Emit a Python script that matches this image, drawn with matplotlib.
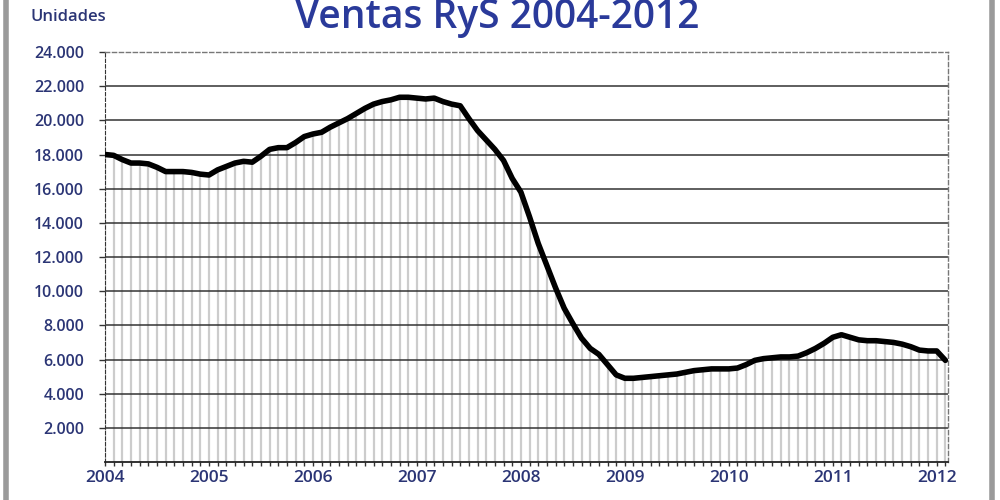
import matplotlib
matplotlib.use("Agg")
import matplotlib.pyplot as plt
from matplotlib.lines import Line2D
import numpy as np

# Monthly sales, Jan 2004 .. Feb 2012
ventas = [18000, 17950, 17700, 17500, 17500, 17450, 17250, 17000, 17000, 17000, 16950, 16850,
          16800, 17100, 17300, 17500, 17600, 17550, 17900, 18300, 18400, 18400, 18700, 19050,
          19200, 19300, 19600, 19850, 20100, 20400, 20700, 20950, 21100, 21200, 21350, 21350,
          21300, 21250, 21300, 21100, 20950, 20850, 20100, 19400, 18850, 18300, 17650, 16600,
          15800, 14350, 12800, 11500, 10200, 9000, 8100, 7250, 6650, 6300, 5700, 5100,
          4900, 4900, 4950, 5000, 5050, 5100, 5150, 5250, 5350, 5400, 5450, 5450,
          5450, 5500, 5700, 5950, 6050, 6100, 6150, 6150, 6200, 6400, 6650, 6950,
          7300, 7450, 7300, 7150, 7100, 7100, 7050, 7000, 6900, 6750, 6550, 6500,
          6500, 5950]
years = ["2004", "2005", "2006", "2007", "2008", "2009", "2010", "2011", "2012"]
yticks = [2000, 4000, 6000, 8000, 10000, 12000, 14000, 16000, 18000, 20000, 22000, 24000]
ytick_labels = ["2.000", "4.000", "6.000", "8.000", "10.000", "12.000", "14.000",
                "16.000", "18.000", "20.000", "22.000", "24.000"]

navy = "#2b3575"
title_blue = "#2a3a9a"
font = "Open Sans"

fig = plt.figure(figsize=(10, 5), dpi=100)
fig.patch.set_facecolor("white")

ax = fig.add_axes([0.105, 0.076, 0.843, 0.820])
x = np.arange(len(ventas))
ax.vlines(x, 0, ventas, colors="#cccccc", linewidth=1.6, zorder=1)
for yv in yticks[:-1]:
    ax.axhline(yv, color="#333333", linewidth=1.1, zorder=2)
ax.plot(x, ventas, color="black", linewidth=4, solid_joinstyle="round",
        solid_capstyle="round", zorder=3)

ax.set_xlim(0, 97.3)
ax.set_ylim(0, 24000)
ax.set_yticks(yticks)
ax.set_yticklabels(ytick_labels)
ax.set_xticks([12 * i for i in range(len(years))])
ax.set_xticklabels(years)
ax.set_xticks(np.arange(0, 98), minor=True)

for lbl in ax.get_yticklabels():
    lbl.set_color(navy)
    lbl.set_fontsize(11.5)
    lbl.set_fontweight("semibold")
    lbl.set_fontfamily(font)
for lbl in ax.get_xticklabels():
    lbl.set_color(navy)
    lbl.set_fontsize(12.5)
    lbl.set_fontweight("semibold")
    lbl.set_fontfamily(font)

ax.tick_params(axis="y", length=4, width=1, color="#333333", pad=11)
ax.tick_params(axis="x", which="both", length=3, width=1, color="#333333", pad=3, direction="out")

for s in ["top", "right"]:
    ax.spines[s].set_linestyle((0, (3, 2)))
    ax.spines[s].set_color("#777777")
    ax.spines[s].set_linewidth(1)
ax.spines["left"].set_linestyle((0, (3, 2)))
ax.spines["left"].set_color("#333333")
ax.spines["bottom"].set_color("#222222")
ax.spines["bottom"].set_linewidth(1.3)

fig.text(0.497, 0.944, "Ventas RyS 2004-2012", ha="center", va="baseline",
         fontsize=28, color=title_blue, fontfamily=font, fontweight="semibold")
fig.text(0.03, 0.958, "Unidades", ha="left", va="baseline",
         fontsize=12, color=navy, fontweight="semibold", fontfamily=font)

# gray frame
fig.add_artist(Line2D([0.006, 0.006], [0, 1], color="#9a9a9a", linewidth=4, transform=fig.transFigure))
fig.add_artist(Line2D([0.992, 0.992], [0, 1], color="#9a9a9a", linewidth=4, transform=fig.transFigure))

fig.savefig("out.png", dpi=100)
